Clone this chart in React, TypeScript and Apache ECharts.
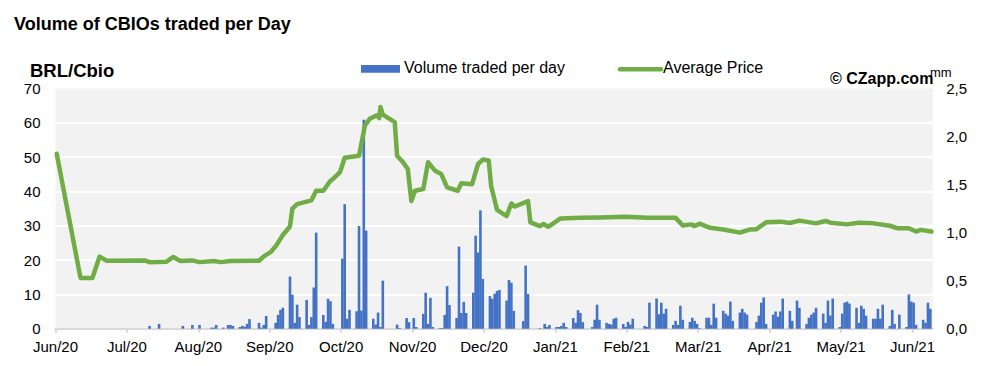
import React, { useEffect, useRef } from "react";
import * as echarts from "echarts";

// Day index (0 = first trading day, mid-June 2020); one label every 30 days
const monthLabels = ["Jun/20", "Jul/20", "Aug/20", "Sep/20", "Oct/20", "Nov/20", "Dec/20", "Jan/21", "Feb/21", "Mar/21", "Apr/21", "May/21", "Jun/21"];
const monthTickDays = [0, 30, 60, 90, 120, 150, 180, 210, 240, 270, 300, 330, 360];
const lastDay = 368.5;

// Volume traded per day, [day, million CBIOs] (right axis "mm")
const volumeByDay: [number, number][] = [
  [39, 0.029], [43, 0.05], [53, 0.029], [57, 0.039], [60, 0.039], [65, 0.011], [66, 0.011], [67, 0.039], [70, 0.011],
  [72, 0.039], [73, 0.039], [74, 0.029], [77, 0.018], [78, 0.029], [79, 0.021], [80, 0.05], [81, 0.1],
  [85, 0.061], [86, 0.011], [87, 0.039], [88, 0.132], [92, 0.061], [93, 0.143], [94, 0.196], [95, 0.218],
  [98, 0.543], [99, 0.354], [100, 0.061], [101, 0.25], [102, 0.121], [105, 0.3], [106, 0.039], [107, 0.121],
  [108, 0.429], [109, 1.0], [112, 0.143], [113, 0.071], [114, 0.311], [115, 0.286], [116, 0.05],
  [120, 0.729], [121, 1.296], [122, 0.104], [123, 0.196], [126, 0.182], [127, 1.068], [128, 0.189],
  [129, 2.175], [130, 1.021], [133, 0.104], [134, 0.043], [135, 0.168], [136, 0.018], [137, 0.5],
  [143, 0.043], [144, 0.007], [147, 0.111], [148, 0.068], [150, 0.111], [151, 0.018], [154, 0.154],
  [155, 0.375], [156, 0.05], [157, 0.321], [158, 0.018], [161, 0.007], [162, 0.007], [163, 0.143],
  [164, 0.443], [165, 0.246], [168, 0.111], [169, 0.854], [170, 0.164], [171, 0.279], [172, 0.164],
  [175, 0.375], [176, 0.968], [177, 0.793], [178, 1.232], [179, 0.518], [182, 0.339], [183, 0.311],
  [184, 0.364], [185, 0.393], [186, 0.404], [189, 0.293], [190, 0.507], [191, 0.479], [192, 0.186],
  [196, 0.079], [197, 0.657], [198, 0.361], [203, 0.007], [205, 0.05], [206, 0.018], [207, 0.039],
  [210, 0.018], [211, 0.018], [212, 0.029], [213, 0.061], [214, 0.018], [217, 0.111], [218, 0.061],
  [219, 0.193], [220, 0.164], [221, 0.068], [225, 0.018], [226, 0.093], [227, 0.25], [228, 0.093],
  [231, 0.061], [232, 0.05], [233, 0.043], [234, 0.104], [235, 0.114], [238, 0.05], [239, 0.018],
  [240, 0.071], [241, 0.043], [242, 0.104], [247, 0.029], [248, 0.018], [249, 0.271], [252, 0.314],
  [253, 0.15], [254, 0.271], [255, 0.157], [256, 0.207], [259, 0.039], [260, 0.082], [261, 0.039],
  [262, 0.239], [263, 0.093], [266, 0.071], [267, 0.114], [268, 0.082], [269, 0.05], [270, 0.007],
  [273, 0.114], [274, 0.114], [275, 0.039], [276, 0.261], [277, 0.114], [280, 0.186], [281, 0.157],
  [282, 0.136], [283, 0.282], [284, 0.082], [287, 0.168], [288, 0.207], [289, 0.168], [290, 0.146],
  [294, 0.071], [295, 0.136], [296, 0.271], [297, 0.325], [298, 0.05], [301, 0.146], [302, 0.179],
  [303, 0.125], [304, 0.179], [305, 0.314], [308, 0.186], [309, 0.082], [311, 0.293], [312, 0.218],
  [315, 0.05], [316, 0.114], [317, 0.146], [318, 0.168], [319, 0.218], [322, 0.157], [323, 0.061],
  [324, 0.293], [325, 0.136], [326, 0.314], [329, 0.018], [330, 0.157], [331, 0.271], [332, 0.282],
  [333, 0.261], [336, 0.218], [337, 0.061], [338, 0.239], [339, 0.207], [340, 0.136], [343, 0.104],
  [344, 0.104], [345, 0.207], [346, 0.104], [347, 0.25], [350, 0.029], [351, 0.196], [352, 0.05],
  [354, 0.146], [357, 0.018], [358, 0.357], [359, 0.282], [360, 0.271], [361, 0.039], [364, 0.093],
  [365, 0.061], [366, 0.271], [367, 0.207],
];

// Average price, [day, BRL/Cbio] (left axis)
const priceByDay: [number, number][] = [
  [0, 51], [10, 14.8], [15, 14.8], [18, 21], [21, 19.8], [37, 19.9], [39, 19.4], [46, 19.5], [49, 20.9],
  [52, 19.7], [57, 19.9], [60, 19.4], [66, 19.7], [69, 19.4], [73, 19.7], [85, 19.8], [87, 21.1],
  [90, 22.4], [92, 24], [95, 27.3], [98, 29.8], [99, 35], [101, 36.3], [107, 37.4], [109, 40.2],
  [112, 40.2], [115, 43.1], [116, 43.6], [119, 45.6], [121, 49.8], [127, 50.4], [129.5, 59.2],
  [131.5, 61.2], [134.5, 62.2], [135.5, 61.4], [136, 64.6], [137, 62.4], [142, 60.2], [143, 50.4],
  [145.5, 48.5], [147.5, 46.5], [149, 37.2], [150.5, 40.2], [154, 40.7], [156, 48.5], [159, 46],
  [161.5, 45.1], [164, 41.2], [168.5, 40.2], [170, 42.4], [174.5, 42.1], [177, 48], [179, 49.3],
  [181.5, 49], [182.5, 41.6], [185, 34.6], [189, 32.8], [191, 36.5], [192.5, 35.6], [198, 37.2],
  [199, 31], [203, 29.9], [204.5, 30.5], [206.5, 29.7], [211.5, 32.1], [220, 32.3], [228, 32.4],
  [239, 32.6], [248, 32.3], [260, 32.3], [263, 30.1], [266.5, 30.4], [268, 29.9], [270, 30.6],
  [274.5, 29.4], [280, 28.9], [287, 28], [291, 28.9], [294, 29], [298, 31], [304, 31.2], [308, 30.8],
  [312, 31.5], [319, 30.7], [323, 31.4], [325, 30.9], [332, 30.4], [337, 30.9], [343, 30.7], [350, 30],
  [353, 29.3], [358, 29.3], [361, 28.3], [363, 28.8], [367.5, 28.3],
];

const leftAxisMax = 70;
const leftAxisStep = 10;
const rightAxisMax = 2.5;
const rightAxisStep = 0.5;

const FONT = "'Liberation Sans', Arial, sans-serif";

export default function App() {
  const ref = useRef<HTMLDivElement>(null);

  useEffect(() => {
    if (!ref.current) return;
    const chart = echarts.init(ref.current, undefined, { renderer: "svg" });
    const axisText = { color: "#000000", fontSize: 15, fontFamily: FONT };
    const option: any = {
      animation: false,
      backgroundColor: "#FFFFFF",
      grid: {
        left: 55.5,
        right: 63.3,
        top: 88.5,
        bottom: 37.3,
        show: true,
        backgroundColor: "#F2F2F2",
        borderWidth: 0,
      },
      xAxis: {
        type: "value",
        min: 0,
        max: lastDay,
        axisLine: { show: true, lineStyle: { color: "#D9D9D9", width: 2 } },
        axisTick: {
          show: true,
          customValues: monthTickDays,
          length: 4,
          lineStyle: { color: "#D9D9D9", width: 2 },
        },
        axisLabel: {
          ...axisText,
          customValues: monthTickDays,
          margin: 10,
          formatter: (v: number) => monthLabels[Math.round(v / 30)] ?? "",
        },
        splitLine: { show: false },
      },
      yAxis: [
        {
          type: "value",
          position: "left",
          min: 0,
          max: leftAxisMax,
          interval: leftAxisStep,
          axisLine: { show: false },
          axisTick: { show: false },
          axisLabel: { ...axisText, margin: 15 },
          splitLine: {
            show: true,
            showMinLine: false,
            showMaxLine: false,
            lineStyle: { color: "#FFFFFF", width: 2 },
          },
        },
        {
          type: "value",
          position: "right",
          min: 0,
          max: rightAxisMax,
          interval: rightAxisStep,
          axisLine: { show: false },
          axisTick: { show: false },
          axisLabel: {
            ...axisText,
            margin: 13.5,
            formatter: (v: number) => v.toFixed(1).replace(".", ","),
          },
          splitLine: { show: false },
        },
      ],
      series: [
        {
          name: "Volume traded per day",
          type: "bar",
          yAxisIndex: 1,
          barWidth: 2.6,
          itemStyle: { color: "#4472C4" },
          data: volumeByDay.map(([d, v]) => [d + 0.5, v]),
        },
        {
          name: "Average Price",
          type: "line",
          yAxisIndex: 0,
          showSymbol: false,
          symbol: "none",
          lineStyle: { color: "#70AD47", width: 4.5, join: "round", cap: "round" },
          data: priceByDay.map(([d, v]) => [d + 0.5, v]),
          z: 3,
        },
      ],
      graphic: [
        {
          type: "text",
          x: 14,
          y: 24.2,
          style: { text: "Volume of CBIOs traded per Day", fill: "#000", fontSize: 18, fontWeight: "bold", fontFamily: FONT, verticalAlign: "middle" },
        },
        {
          type: "text",
          x: 30,
          y: 70,
          style: { text: "BRL/Cbio", fill: "#000", fontSize: 18.5, fontWeight: "bold", fontFamily: FONT, verticalAlign: "middle" },
        },
        {
          type: "rect",
          shape: { x: 361, y: 65, width: 39, height: 7.7 },
          style: { fill: "#4472C4" },
        },
        {
          type: "text",
          x: 404,
          y: 67.9,
          style: { text: "Volume traded per day", fill: "#000", fontSize: 16, fontFamily: FONT, verticalAlign: "middle" },
        },
        {
          type: "line",
          shape: { x1: 620, y1: 69.3, x2: 661, y2: 69.3 },
          style: { stroke: "#70AD47", lineWidth: 4.5, lineCap: "round" },
        },
        {
          type: "text",
          x: 663,
          y: 67.9,
          style: { text: "Average Price", fill: "#000", fontSize: 16, fontFamily: FONT, verticalAlign: "middle" },
        },
        {
          type: "text",
          x: 830,
          y: 78.7,
          style: { text: "© CZapp.com", fill: "#000", fontSize: 16, fontWeight: "bold", fontFamily: FONT, verticalAlign: "middle" },
        },
        {
          type: "text",
          x: 930,
          y: 72.2,
          style: { text: "mm", fill: "#000", fontSize: 13, fontFamily: FONT, verticalAlign: "middle" },
        },
      ],
    };
    chart.setOption(option);
    return () => chart.dispose();
  }, []);

  return (
    <div
      ref={ref}
      style={{ position: "fixed", left: 0, top: 0, width: 996, height: 366, background: "#FFFFFF" }}
    />
  );
}
